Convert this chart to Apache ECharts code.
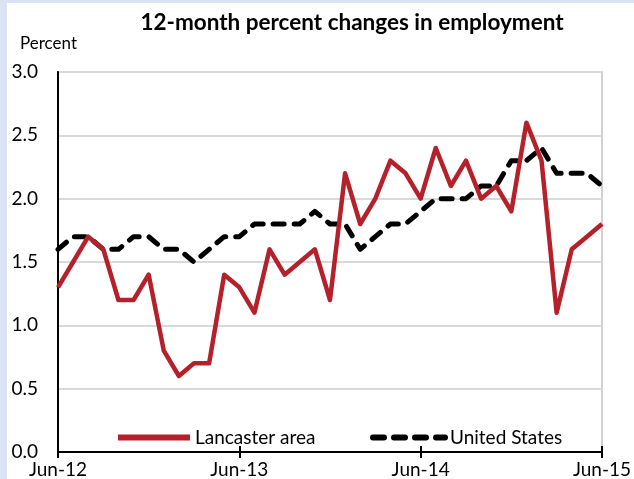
<!DOCTYPE html>
<html>
<head>
<meta charset="utf-8">
<script src="https://cdn.jsdelivr.net/npm/echarts@6/dist/echarts.min.js"></script>
<style>
  html, body { margin: 0; padding: 0; background: #fff; }
  #chart { width: 634px; height: 479px; }
</style>
</head>
<body>
<div id="chart"></div>
<script>
// monthly categories, Jun-12 .. Jun-15
var months = [
  "Jun-12", "Jul-12", "Aug-12", "Sep-12", "Oct-12", "Nov-12", "Dec-12",
  "Jan-13", "Feb-13", "Mar-13", "Apr-13", "May-13", "Jun-13", "Jul-13",
  "Aug-13", "Sep-13", "Oct-13", "Nov-13", "Dec-13", "Jan-14", "Feb-14",
  "Mar-14", "Apr-14", "May-14", "Jun-14", "Jul-14", "Aug-14", "Sep-14",
  "Oct-14", "Nov-14", "Dec-14", "Jan-15", "Feb-15", "Mar-15", "Apr-15",
  "May-15", "Jun-15"
];
var lancaster = [
  1.3, 1.5, 1.7, 1.6, 1.2, 1.2, 1.4, 0.8, 0.6, 0.7, 0.7, 1.4, 1.3,
  1.1, 1.6, 1.4, 1.5, 1.6, 1.2, 2.2, 1.8, 2.0, 2.3, 2.2, 2.0, 2.4,
  2.1, 2.3, 2.0, 2.1, 1.9, 2.6, 2.3, 1.1, 1.6, 1.7, 1.8
];
var unitedStates = [
  1.6, 1.7, 1.7, 1.6, 1.6, 1.7, 1.7, 1.6, 1.6, 1.5, 1.6, 1.7, 1.7,
  1.8, 1.8, 1.8, 1.8, 1.9, 1.8, 1.8, 1.6, 1.7, 1.8, 1.8, 1.9, 2.0,
  2.0, 2.0, 2.1, 2.1, 2.3, 2.3, 2.4, 2.2, 2.2, 2.2, 2.1
];
var tickLabels = ["Jun-12", "Jun-13", "Jun-14", "Jun-15"];

var FONT = "Lato";
var chart = echarts.init(document.getElementById("chart"));

var option = {
  animation: false,
  textStyle: { fontFamily: FONT, color: "#000" },
  title: {
    text: "12-month percent changes in employment",
    left: 347,
    top: 6,
    textAlign: "center",
    textStyle: { fontFamily: FONT, fontWeight: "bold", fontSize: 22.5, color: "#000" }
  },
  graphic: [
    { type: "rect", left: 0, top: 0, shape: { width: 634, height: 3 }, style: { fill: "#dae3f3" } },
    { type: "rect", left: 0, top: 0, shape: { width: 7, height: 479 }, style: { fill: "#dae3f3" } },
    { type: "text", left: 20, top: 35, style: { text: "Percent", font: "17px " + FONT, fill: "#000" } }
  ],
  legend: [
    {
      data: ["Lancaster area"],
      left: 110, top: 423,
      itemWidth: 72, itemHeight: 18,
      itemStyle: { opacity: 0 },
      lineStyle: { width: 6 },
      textStyle: { fontSize: 19, color: "#000", fontFamily: FONT }
    },
    {
      data: ["United States"],
      left: 365, top: 423,
      itemWidth: 72, itemHeight: 18,
      itemStyle: { opacity: 0 },
      lineStyle: { width: 6 },
      textStyle: { fontSize: 19, color: "#000", fontFamily: FONT }
    }
  ],
  grid: {
    left: 58, right: 30, top: 72, bottom: 27,
    show: true, borderColor: "#d0d0d0", borderWidth: 2,
    containLabel: false
  },
  xAxis: [
    {
      type: "category",
      data: months,
      boundaryGap: false,
      axisLine: { lineStyle: { color: "#000", width: 2 } },
      axisTick: { interval: 11, length: 6, lineStyle: { color: "#000", width: 2 } },
      axisLabel: {
        interval: 11, margin: 8, fontSize: 19, color: "#000",
        formatter: function (v) { return tickLabels.indexOf(v) >= 0 ? v : ""; }
      },
      splitLine: { show: false }
    },
    {
      type: "category",
      data: months,
      position: "bottom",
      boundaryGap: false,
      axisLine: { show: false },
      axisTick: { inside: true, interval: 11, length: 6, lineStyle: { color: "#000", width: 2 } },
      axisLabel: { show: false },
      splitLine: { show: false }
    }
  ],
  yAxis: {
    type: "value",
    min: 0, max: 3, interval: 0.5,
    axisLine: { show: true, lineStyle: { color: "#000", width: 2 } },
    axisTick: { show: false },
    axisLabel: {
      margin: 20, fontSize: 19, color: "#000",
      formatter: function (v) { return v.toFixed(1); }
    },
    splitLine: { lineStyle: { color: "#d9d9d9", width: 2 } }
  },
  series: [
    {
      name: "Lancaster area",
      type: "line",
      data: lancaster,
      symbol: "none",
      lineStyle: { color: "#b5212a", width: 4.5, join: "round" },
      itemStyle: { color: "#b5212a" },
      z: 3
    },
    {
      name: "United States",
      type: "line",
      data: unitedStates,
      symbol: "none",
      lineStyle: { color: "#000", width: 5, type: [11, 10], cap: "round", join: "round" },
      itemStyle: { color: "#000" },
      z: 2
    }
  ]
};

option && chart.setOption(option);
</script>
</body>
</html>
